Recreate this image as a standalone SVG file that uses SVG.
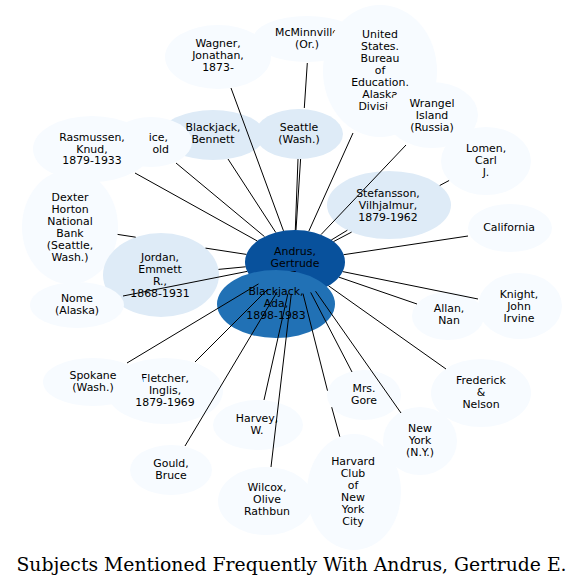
<svg xmlns="http://www.w3.org/2000/svg" width="584" height="587" viewBox="0 0 584 587">
<style>
.n ellipse{stroke:none}
.l{fill:#f7fbff}
.m{fill:#deebf7}
text{font-family:"DejaVu Sans",sans-serif;font-size:10.9px;fill:#000;text-anchor:middle}
.t{font-family:"DejaVu Serif",serif;font-size:18.8px}
#edges path{fill:none;stroke:#000;stroke-width:1}
</style>
<rect width="584" height="587" fill="#fff"/>
<g id="node-wagner" class="n"><ellipse class="l" cx="218" cy="57" rx="53" ry="32"/><text x="218" y="47">Wagner,</text><text x="218" y="59">Jonathan,</text><text x="218" y="71">1873-</text></g>
<g id="node-mcminnville" class="n"><ellipse class="l" cx="307" cy="39" rx="54" ry="23"/><text x="307" y="36">McMinnville</text><text x="307" y="48">(Or.)</text></g>
<g id="node-usbureau" class="n"><ellipse class="l" cx="380" cy="71" rx="57" ry="66"/><text x="380" y="38">United</text><text x="380" y="50">States.</text><text x="380" y="62">Bureau</text><text x="380" y="74">of</text><text x="380" y="86">Education.</text><text x="380" y="98">Alaska</text><text x="380" y="110">Division</text></g>
<g id="node-wrangel" class="n"><ellipse class="l" cx="432" cy="115" rx="46" ry="33"/><text x="432" y="107">Wrangel</text><text x="432" y="119">Island</text><text x="432" y="131">(Russia)</text></g>
<g id="node-bennett" class="n"><ellipse class="m" cx="213" cy="135" rx="52" ry="25"/><text x="213" y="131">Blackjack,</text><text x="213" y="143">Bennett</text></g>
<g id="node-price" class="n"><ellipse class="l" cx="151" cy="142" rx="41" ry="25"/><text x="168" y="140.5" style="text-anchor:end">ice,</text><text x="169" y="153" style="text-anchor:end">old</text></g>
<g id="node-rasmussen" class="n"><ellipse class="l" cx="92" cy="149" rx="59" ry="33"/><text x="92" y="141">Rasmussen,</text><text x="92" y="152.5">Knud,</text><text x="92" y="164">1879-1933</text></g>
<g id="node-seattle" class="n"><ellipse class="m" cx="299" cy="134" rx="44" ry="25"/><text x="299" y="131">Seattle</text><text x="299" y="143">(Wash.)</text></g>
<g id="node-dexter" class="n"><ellipse class="l" cx="70" cy="227" rx="48" ry="57"/><text x="70" y="201">Dexter</text><text x="70" y="213">Horton</text><text x="70" y="225">National</text><text x="70" y="237">Bank</text><text x="70" y="249">(Seattle,</text><text x="70" y="261">Wash.)</text></g>
<g id="node-jordan" class="n"><ellipse class="m" cx="161" cy="275" rx="58" ry="42"/><text x="160" y="261">Jordan,</text><text x="160" y="273">Emmett</text><text x="160" y="285">R.,</text><text x="160" y="297">1868-1931</text></g>
<g id="node-nome" class="n"><ellipse class="l" cx="77" cy="305" rx="47" ry="23"/><text x="77" y="302">Nome</text><text x="77" y="314">(Alaska)</text></g>
<g id="node-lomen" class="n"><ellipse class="l" cx="486" cy="161" rx="45" ry="34"/><text x="486" y="152">Lomen,</text><text x="486" y="164">Carl</text><text x="486" y="176">J.</text></g>
<g id="node-stefansson" class="n"><ellipse class="m" cx="389" cy="205" rx="62" ry="34"/><text x="388" y="197">Stefansson,</text><text x="388" y="209">Vilhjalmur,</text><text x="388" y="221">1879-1962</text></g>
<g id="node-california" class="n"><ellipse class="l" cx="510" cy="228" rx="42" ry="24"/><text x="509" y="231">California</text></g>
<g id="node-allan" class="n"><ellipse class="l" cx="448" cy="316" rx="36" ry="24"/><text x="449" y="312">Allan,</text><text x="449" y="324">Nan</text></g>
<g id="node-knight" class="n"><ellipse class="l" cx="520" cy="306" rx="42" ry="33"/><text x="519" y="298">Knight,</text><text x="519" y="310">John</text><text x="519" y="322">Irvine</text></g>
<g id="node-frederick" class="n"><ellipse class="l" cx="481" cy="393" rx="50" ry="34"/><text x="481" y="384">Frederick</text><text x="481" y="396">&amp;</text><text x="481" y="408">Nelson</text></g>
<g id="node-newyork" class="n"><ellipse class="l" cx="420" cy="441" rx="37" ry="34"/><text x="420" y="432">New</text><text x="420" y="444">York</text><text x="420" y="456">(N.Y.)</text></g>
<g id="node-gore" class="n"><ellipse class="l" cx="364" cy="395" rx="37" ry="25"/><text x="364" y="392">Mrs.</text><text x="364" y="404">Gore</text></g>
<g id="node-wilcox" class="n"><ellipse class="l" cx="266" cy="501" rx="48" ry="34"/><text x="267" y="491">Wilcox,</text><text x="267" y="503">Olive</text><text x="267" y="515">Rathbun</text></g>
<g id="node-harvard" class="n"><ellipse class="l" cx="354" cy="492" rx="47" ry="58"/><text x="353" y="465">Harvard</text><text x="353" y="477">Club</text><text x="353" y="489">of</text><text x="353" y="501">New</text><text x="353" y="513">York</text><text x="353" y="525">City</text></g>
<g id="node-harvey" class="n"><ellipse class="l" cx="258" cy="425" rx="45" ry="25"/><text x="257" y="422">Harvey,</text><text x="257" y="434">W.</text></g>
<g id="node-gould" class="n"><ellipse class="l" cx="171" cy="470" rx="41" ry="25"/><text x="171" y="467">Gould,</text><text x="171" y="479">Bruce</text></g>
<g id="node-fletcher" class="n"><ellipse class="l" cx="165" cy="391" rx="58" ry="33"/><text x="165" y="382">Fletcher,</text><text x="165" y="394">Inglis,</text><text x="165" y="406">1879-1969</text></g>
<g id="node-spokane" class="n"><ellipse class="l" cx="93" cy="382" rx="50" ry="24"/><text x="93" y="379">Spokane</text><text x="93" y="391">(Wash.)</text></g>
<g id="node-andrus" class="n"><ellipse cx="295" cy="262" rx="50" ry="32" fill="#08519c"/><text x="295" y="255">Andrus,</text><text x="295" y="267">Gertrude</text><text x="295" y="279">E.</text></g>
<g id="node-ada" class="n"><ellipse cx="276" cy="304" rx="59" ry="34" fill="#2171b5"/><text x="276" y="295">Blackjack,</text><text x="276" y="307">Ada,</text><text x="276" y="319">1898-1983</text></g>
<g id="edges">
<path d="M283.5,230.9L231,88"/>
<path d="M307.3,63L304.3,108M300.6,159L296,230"/>
<path d="M298,159L295.3,230"/>
<path d="M308.8,231.2L353,133"/>
<path d="M321,234.6L406,145"/>
<path d="M333.5,241.6L351.6,232.1M439.7,185.5L449.1,180.5"/>
<path d="M331.3,240L347.4,230.2"/>
<path d="M343.7,254.7L468,236"/>
<path d="M342.7,271.6L478,299"/>
<path d="M339,277.2L417,304"/>
<path d="M328.5,285.8L446,369"/>
<path d="M315.5,291.2L401,413"/>
<path d="M310.7,292.4L352,372"/>
<path d="M303,293.6L327.5,390.7M331.7,407.2L339.8,436.7"/>
<path d="M287.9,293.7L264,400"/>
<path d="M291.3,293.9L271,467"/>
<path d="M277.1,291.9L185,446"/>
<path d="M268,289L195,362"/>
<path d="M258.5,283.9L127,363"/>
<path d="M247.2,271.4L123,296"/>
<path d="M245.6,266.8L218.5,269.4"/>
<path d="M117.6,234.4L135.7,237.2M205.5,248.1L246.4,254.4"/>
<path d="M257.3,241L135,173"/>
<path d="M264.5,236.6L176,163"/>
<path d="M275.8,232.5L228,159"/>
</g>
<text class="t" x="291.5" y="571">Subjects Mentioned Frequently With Andrus, Gertrude E.</text>
</svg>
